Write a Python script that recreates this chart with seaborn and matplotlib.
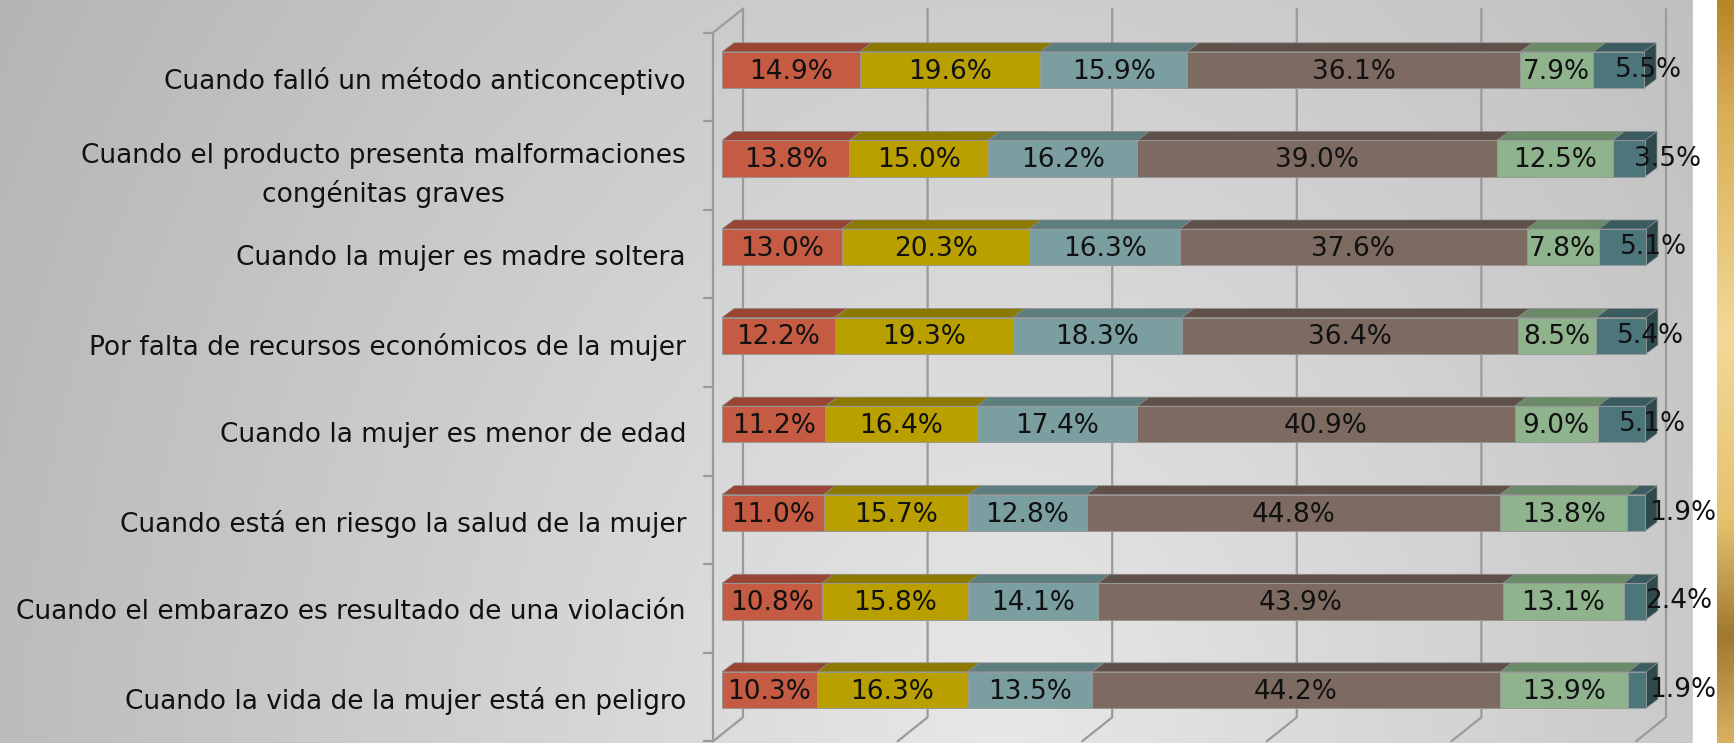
import numpy as np
import matplotlib
matplotlib.use("Agg")
import matplotlib.pyplot as plt
import matplotlib.transforms as mtransforms
from matplotlib.colors import LinearSegmentedColormap
from matplotlib.lines import Line2D
from matplotlib.patches import Polygon, Rectangle
import seaborn as sns

# ----------------------------
# Data (top to bottom)
# ----------------------------

categories = [
    "Cuando falló un método anticonceptivo",
    "Cuando el producto presenta malformaciones\ncongénitas graves",
    "Cuando la mujer es madre soltera",
    "Por falta de recursos económicos de la mujer",
    "Cuando la mujer es menor de edad",
    "Cuando está en riesgo la salud de la mujer",
    "Cuando el embarazo es resultado de una violación",
    "Cuando la vida de la mujer está en peligro",
]

s1 = [14.9, 13.8, 13.0, 12.2, 11.2, 11.0, 10.8, 10.3]
s2 = [19.6, 15.0, 20.3, 19.3, 16.4, 15.7, 15.8, 16.3]
s3 = [15.9, 16.2, 16.3, 18.3, 17.4, 12.8, 14.1, 13.5]
s4 = [36.1, 39.0, 37.6, 36.4, 40.9, 44.8, 43.9, 44.2]
s5 = [7.9, 12.5, 7.8, 8.5, 9.0, 13.8, 13.1, 13.9]
s6 = [5.5, 3.5, 5.1, 5.4, 5.1, 1.9, 2.4, 1.9]

grid_ticks = [0, 20, 40, 60, 80, 100]

front_colors = ["#c55b42", "#b9a000", "#7b9fa1", "#7d6b61", "#8fb38c", "#4d767a"]
top_colors = ["#9a4534", "#8c7a00", "#5e7d7f", "#5f5149", "#6b8a68", "#3a5b5f"]
side_color = "#2f4a4d"

W, H = 1734, 743
FS = 19

# ----------------------------
# Figure + background
# ----------------------------

sns.set_style("white")
plt.rcParams["font.family"] = ["DejaVu Sans"]

fig = plt.figure(figsize=(W / 100, H / 100), dpi=100)

bg = fig.add_axes([0, 0, 1, 1], zorder=0)
X, Y = np.meshgrid(np.linspace(0, W, 400), np.linspace(0, H, 200))
d = np.sqrt((X - 1000) ** 2 + (0.8 * (Y - 750)) ** 2)
v = np.clip(0.91 - 0.19 * d / 1100, 0, 1)
bg.imshow(np.dstack([v, v, v]), extent=[0, W, H, 0], aspect="auto",
          interpolation="bilinear")
bg.add_patch(Rectangle((1693, 0), 24, H, color="white", zorder=2))
bg.set_xlim(0, W)
bg.set_ylim(H, 0)
bg.axis("off")

gold = fig.add_axes([1717 / W, 0, 17 / W, 1], zorder=0.1)
gold_cmap = LinearSegmentedColormap.from_list(
    "gold", [(0, "#b8862a"), (0.15, "#d9ae55"), (0.45, "#f2d898"),
             (0.7, "#e6c270"), (0.86, "#a07830"), (1, "#d8b060")])
gold.imshow(np.linspace(0, 1, 200)[:, None], cmap=gold_cmap, aspect="auto")
gold.axis("off")

# main axes: x data 0 -> 722px, 100 -> 1645px ; rows at 70px .. 690px
px_x = 923 / 100
px_y = 620 / 7
ax_left, ax_right = 700, 1693
ax = fig.add_axes([ax_left / W, 0, (ax_right - ax_left) / W, 1], zorder=1)
ax.set_facecolor("none")

# ----------------------------
# Stacked bars
# ----------------------------

series = [s1, s2, s3, s4, s5, s6]
cum = np.cumsum(np.array(series), axis=0)

for k in range(len(series) - 1, -1, -1):
    sns.barplot(x=cum[k], y=categories, orient="h", color=front_colors[k],
                saturation=1, width=0.41, edgecolor="#9a9a9a", linewidth=0.6,
                zorder=3, ax=ax)

ax.set_xlim((ax_left - 722) / px_x, (ax_right - 722) / px_x)
ax.set_ylim((H - 70) / px_y, -70 / px_y)
ax.autoscale(False)
for sp in ax.spines.values():
    sp.set_visible(False)
ax.set_xticks([])
ax.set_xlabel("")
ax.set_ylabel("")
ax.set_yticks(range(len(categories)))
ax.set_yticklabels(categories, fontsize=FS, color="#111111", linespacing=1.5)
ax.tick_params(axis="y", length=0, pad=14 * 0.72)
shift = mtransforms.ScaledTranslation(0, -8 / 100, fig.dpi_scale_trans)
for lab in ax.get_yticklabels():
    lab.set_multialignment("center")
    lab.set_transform(lab.get_transform() + shift)


def disp(x, y, ddx=0, ddy=0):
    p = ax.transData.transform((x, y))
    return (p[0] + ddx, p[1] + ddy)


ident = mtransforms.IdentityTransform()
n = len(categories)

# ----------------------------
# 3D walls / gridlines
# ----------------------------

FRONT = (-9, -7)
BACK = (21, 17)
for t in grid_ticks:
    a = disp(t, -0.5, *BACK)
    b = disp(t, n - 0.5, *BACK)
    c = disp(t, n - 0.5, *FRONT)
    fig.add_artist(Line2D([a[0], b[0], c[0]], [a[1], b[1], c[1]],
                          transform=ident, color="#9a9a9a", lw=1.6, zorder=0.5))

a = disp(0, -0.5, *FRONT)
b = disp(0, n - 0.5, *FRONT)
c = disp(0, -0.5, *BACK)
fig.add_artist(Line2D([c[0], a[0], b[0]], [c[1], a[1], b[1]],
                      transform=ident, color="#9a9a9a", lw=1.6, zorder=0.5))
for k in range(n + 1):
    p = disp(0, k - 0.5, *FRONT)
    fig.add_artist(Line2D([p[0] - 9, p[0]], [p[1], p[1]], transform=ident,
                          color="#9a9a9a", lw=1.6, zorder=0.5))

# ----------------------------
# 3D top and side faces + labels
# ----------------------------

DEPTH = (12, 9)
half = 0.41 / 2
for i in range(n):
    lefts = np.concatenate([[0], cum[:-1, i]])
    for k in range(len(series)):
        l, r = lefts[k], cum[k, i]
        p1 = disp(l, i - half)
        p2 = disp(r, i - half)
        face = [p1, p2, (p2[0] + DEPTH[0], p2[1] + DEPTH[1]),
                (p1[0] + DEPTH[0], p1[1] + DEPTH[1])]
        fig.add_artist(Polygon(face, closed=True, transform=ident,
                               facecolor=top_colors[k], edgecolor="#8a8a8a",
                               lw=0.5, zorder=0.8))
        val = series[k][i]
        if k == len(series) - 1:
            ax.text(l + 2.3, i, f"{val:.1f}%", ha="left", va="center",
                    fontsize=FS, color="#111111", zorder=6, clip_on=False)
        else:
            ax.text((l + r) / 2, i + 0.02, f"{val:.1f}%", ha="center",
                    va="center", fontsize=FS, color="#111111", zorder=6)
    r = cum[-1, i]
    q1 = disp(r, i - half)
    q2 = disp(r, i + half)
    side = [q1, q2, (q2[0] + DEPTH[0], q2[1] + DEPTH[1]),
            (q1[0] + DEPTH[0], q1[1] + DEPTH[1])]
    fig.add_artist(Polygon(side, closed=True, transform=ident,
                           facecolor=side_color, edgecolor="#8a8a8a",
                           lw=0.5, zorder=0.8))

fig.savefig("out.png", dpi=100)
plt.close(fig)
